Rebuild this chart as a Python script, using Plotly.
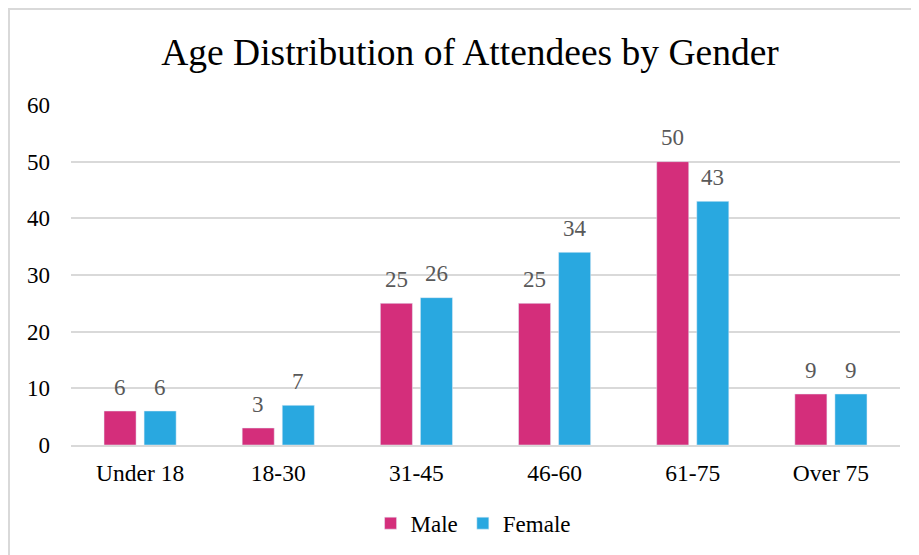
import plotly.graph_objects as go

categories = ["Under 18", "18-30", "31-45", "46-60", "61-75", "Over 75"]
male = [6, 3, 25, 25, 50, 9]
female = [6, 7, 26, 34, 43, 9]
y_ticks = [0, 10, 20, 30, 40, 50, 60]

SERIF = "Liberation Serif"
W, H = 911, 547  # page body has an 8px default margin
L, R, T, B = 63, 19, 97, 110
PLOT_W = W - L - R

fig = go.Figure()
fig.add_trace(go.Bar(name="Male", x=categories, y=male, marker_color="#D42E7B"))
fig.add_trace(go.Bar(name="Female", x=categories, y=female, marker_color="#29A8E0"))

# data labels above bars
slot = PLOT_W / len(categories) * (1 - 0.42) / 2
for vals, dx in ((male, -slot / 2), (female, slot / 2)):
    for c, v in zip(categories, vals):
        fig.add_annotation(x=c, y=v, text=str(v), showarrow=False, xshift=dx, yshift=24,
                           yanchor="middle", xanchor="center",
                           font=dict(family=SERIF, size=23, color="#595959"))

fig.update_layout(
    width=W, height=H,
    margin=dict(l=L, r=R, t=T, b=B, autoexpand=False),
    paper_bgcolor="white", plot_bgcolor="white",
    barmode="group", bargap=0.42, bargroupgap=0.2,
    title=dict(text="Age Distribution of Attendees by Gender", x=462 / W, xanchor="center",
               y=1 - 44 / H, yanchor="middle",
               font=dict(family=SERIF, size=37.5, color="black")),
    font=dict(family=SERIF, size=23, color="black"),
    legend=dict(orientation="h", x=0.485, xanchor="center", y=-0.23, yanchor="middle",
                font=dict(family=SERIF, size=23, color="black"),
                itemwidth=30, traceorder="normal"),
    showlegend=True,
)
fig.update_yaxes(range=[0, 60], tickvals=y_ticks, showgrid=True, gridcolor="#D9D9D9",
                 gridwidth=1.5, zeroline=False, showline=False, ticks="", automargin=False,
                 ticklabelstandoff=20, tickfont=dict(family=SERIF, size=23, color="black"))
fig.update_xaxes(showline=True, linecolor="#D9D9D9", linewidth=2, ticks="", automargin=False,
                 ticklabelstandoff=6, tickfont=dict(family=SERIF, size=23.5, color="black"))

# outer chart border
fig.add_shape(type="rect", xref="paper", yref="paper",
              x0=(1 - L) / PLOT_W, x1=1.2, y0=-1, y1=1 + (T - 1) / (H - T - B),
              line=dict(color="#D9D9D9", width=2), fillcolor="rgba(0,0,0,0)", layer="below")

fig.write_html("out.html")
